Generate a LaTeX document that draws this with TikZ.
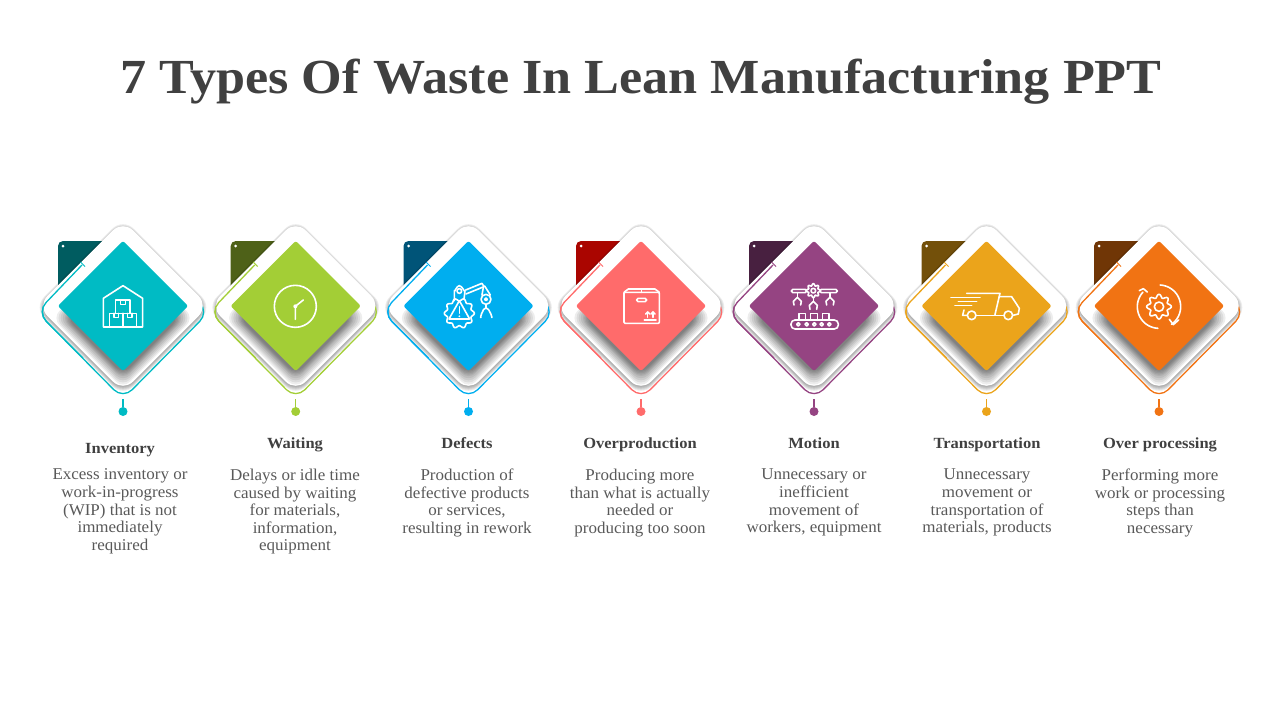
\documentclass[tikz,border=0pt]{standalone}
\usepackage{xcolor}
\usepackage{fontspec}
\setmainfont[FakeStretch=1.03]{Liberation Serif}
\newfontfamily\headfont[FakeStretch=1.065]{Liberation Serif}
\usetikzlibrary{positioning}
\definecolor{titlecolor}{RGB}{64,64,64}
\definecolor{bodycolor}{RGB}{89,89,89}
\definecolor{tealcolor}{RGB}{0,187,196}
\definecolor{tealdark}{RGB}{0,92,96}
\definecolor{greencolor}{RGB}{163,206,54}
\definecolor{greendark}{RGB}{78,97,24}
\definecolor{bluecolor}{RGB}{0,174,239}
\definecolor{bluedark}{RGB}{0,84,120}
\definecolor{coralcolor}{RGB}{255,107,107}
\definecolor{coraldark}{RGB}{170,5,0}
\definecolor{purplecolor}{RGB}{149,68,130}
\definecolor{purpledark}{RGB}{72,32,64}
\definecolor{ambercolor}{RGB}{235,164,27}
\definecolor{amberdark}{RGB}{115,80,10}
\definecolor{orangecolor}{RGB}{241,115,19}
\definecolor{orangedark}{RGB}{112,54,6}

% blurred shadow: x, y, half side, list of growths, corner radius, opacity
\newcommand{\softshadow}[6]{
    \foreach \grow in {#4} {
        \fill[black, opacity=#6, shift={(#1,#2)}, rotate=45, rounded corners=#5]
            ({-#3-\grow},{-#3-\grow}) rectangle ({#3+\grow},{#3+\grow});
    }
}
% one card: name, centre x, colour, dark colour
\newcommand{\wastecard}[4]{
    \begin{scope}[shift={(#2,306)}]
        \node[backtile, fill=#4] (#1tile) at (-35,-35) {};
        \node[pin] (#1pin) at (-60,-60) {};
        \softshadow{0}{1.5}{60.5}{2.8,2.1,1.4,0.7,0}{15pt}{0.07}
        \draw[outline=#3] (-41,-41) -- (-86,6) -- (0,93) -- (86,6) -- (60,-20);
        \node[whitecard] (#1card) at (0,0) {};
        \draw[outline=#3] (-41,-41) -- (-86,6) -- (-40,52);
        \draw[#3, line width=1pt] (-42.5,-44) -- (-38,-39.5);
        \node[pin] (#1mark) at (0,74) {};
        \softshadow{0}{12}{42}{8,6.5,5,3.5,2,1,0,-1,-2}{10pt}{0.07}
        \node[colorcard, fill=#3] (#1face) at (0,0) {};
        \coordinate (#1tip) at (0,93);
        \node[enddot, fill=#3] (#1dot) at (0,105.5) {};
        \draw[#3, line width=1.5pt] (#1tip) -- (#1dot);
    \end{scope}
}

\begin{document}
\begin{tikzpicture}[
    x=1pt, y=-1pt,
    backtile/.style={rectangle, minimum size=60pt, inner sep=0pt, rounded corners=5pt},
    pin/.style={circle, fill=white, minimum size=3pt, inner sep=0pt},
    whitecard/.style={rectangle, fill=white, rotate=45, minimum size=121pt, inner sep=0pt, rounded corners=14pt},
    colorcard/.style={rectangle, rotate=45, minimum size=92pt, inner sep=0pt, rounded corners=2pt},
    outline/.style={#1, line width=1.3pt, rounded corners=13pt},
    enddot/.style={circle, minimum size=9pt, inner sep=0pt},
    iconline/.style={white, line width=1.6pt, line cap=round, line join=round},
    maintitle/.style={font=\fontsize{49}{55}\headfont\bfseries, text=titlecolor},
    headlabel/.style={font=\fontsize{15.5}{18}\headfont\bfseries, text=titlecolor, anchor=base},
    bodylabel/.style={font=\fontsize{16.5}{17.6}\selectfont, text=bodycolor, align=center, anchor=north, execute at begin node={\rule{0pt}{12pt}}}
]
    \useasboundingbox (0,0) rectangle (1280,720);

    % Title
    \node[maintitle] (title) at (641,82) {7 Types Of Waste In Lean Manufacturing PPT};

    % Cards
    \wastecard{inventory}{123}{tealcolor}{tealdark}
    \wastecard{waiting}{295.7}{greencolor}{greendark}
    \wastecard{defects}{468.5}{bluecolor}{bluedark}
    \wastecard{overproduction}{641}{coralcolor}{coraldark}
    \wastecard{motion}{814}{purplecolor}{purpledark}
    \wastecard{transportation}{986.5}{ambercolor}{amberdark}
    \wastecard{processing}{1159}{orangecolor}{orangedark}

    % Warehouse icon
    \begin{scope}[shift={(30,215)}, x=0.3333pt, y=-0.3333pt]
        \draw[iconline] (220,336) -- (220,250) -- (279,212) -- (338,250) -- (338,336) -- cycle;
        \draw[iconline] (257,295) -- (257,255) -- (300,255) -- (300,295);
        \draw[iconline] (238,336) -- (238,295) -- (320,295) -- (320,336);
        \draw[iconline] (279,295) -- (279,336);
        \draw[iconline] (271,255) -- (271,268) -- (286,268) -- (286,255);
        \draw[iconline] (252,295) -- (252,308) -- (265,308) -- (265,295);
        \draw[iconline] (293,295) -- (293,308) -- (306,308) -- (306,295);
    \end{scope}

    % Clock icon
    \begin{scope}[shift={(230,240)}, x=0.3333pt, y=-0.3333pt]
        \draw[iconline] (196,199) circle (63);
        \draw[iconline] (220,180) -- (196,199) -- (196,238);
        \fill[white] (196,199) circle (6);
    \end{scope}

    % Robot arm icon
    \begin{scope}[shift={(400,240)}, x=0.3333pt, y=-0.3333pt]
        \draw[iconline] plot[domain=0:360, samples=121, smooth] ({178+(41+4*cos(10*\x))*cos(\x)},{220+(41+4*cos(10*\x))*sin(\x)});
        \draw[iconline] (178,182) -- (147,237) -- (209,237) -- cycle;
        \draw[iconline] (178,200) -- (178,220);
        \fill[white] (178,229) circle (3);
        \draw[iconline] (163,182) -- (163,152) to[out=-90, in=180] (178,137) to[out=0, in=-90] (195,152) -- (192,178);
        \draw[iconline] (178,153) circle (7);
        \draw[iconline] (197,150) -- (246,130) -- (252,140) -- (198,162);
        \draw[iconline] (250,142) -- (246,165);
        \draw[iconline] (254,138) -- (271,165);
        \draw[iconline] (258,178) circle (15);
        \draw[iconline] (258,178) circle (4);
        \draw[iconline] (258,193) -- (258,205);
        \draw[iconline] (243,232) to[out=-110, in=170] (258,205) to[out=10, in=-70] (275,232);
    \end{scope}

    % Box icon
    \begin{scope}[shift={(575,240)}, x=0.3333pt, y=-0.3333pt]
        \draw[iconline, rounded corners=1pt] (147,157) rectangle (253,250);
        \draw[iconline] (147,157) -- (160,147) -- (240,147) -- (253,157);
        \draw[iconline] (200,147) -- (200,157);
        \draw[iconline, rounded corners=1.5pt] (185,175) rectangle (215,185);
        \draw[iconline] (218,232) -- (218,216);
        \draw[iconline] (212,222) -- (218,216) -- (224,222);
        \draw[iconline] (234,232) -- (234,216);
        \draw[iconline] (228,222) -- (234,216) -- (240,222);
        \draw[iconline] (208,240) -- (243,240);
    \end{scope}

    % Conveyor icon
    \begin{scope}[shift={(750,240)}, x=0.3333pt, y=-0.3333pt]
        \draw[iconline] plot[domain=0:360, samples=121, smooth] ({190+(18+3*cos(8*\x))*cos(\x)},{152+(18+3*cos(8*\x))*sin(\x)});
        \draw[iconline] (190,152) circle (7);
        \draw[iconline, rounded corners=1.5pt] (124,148) rectangle (170,158);
        \draw[iconline, rounded corners=1.5pt] (210,148) rectangle (262,158);
        \draw[iconline] (142,158) -- (142,172);
        \draw[iconline] (132,195) -- (130,184) -- (142,172) -- (154,184) -- (152,195);
        \draw[iconline] (190,172) -- (190,184);
        \draw[iconline] (180,208) -- (178,196) -- (190,184) -- (202,196) -- (200,208);
        \draw[iconline] (240,158) -- (240,172);
        \draw[iconline] (230,195) -- (228,184) -- (240,172) -- (252,184) -- (250,195);
        \draw[iconline] (147,240) -- (147,220) -- (167,220) -- (167,240);
        \draw[iconline] (182,240) -- (182,220) -- (202,220) -- (202,240);
        \draw[iconline] (217,240) -- (217,220) -- (237,220) -- (237,240);
        \draw[iconline, rounded corners=4pt] (123,240) rectangle (265,267);
        \foreach \wheel in {145,170,193,215,238} {
            \draw[iconline] (\wheel,253) circle (5);
        }
    \end{scope}

    % Truck icon
    \begin{scope}[shift={(750,240)}, x=0.3333pt, y=-0.3333pt]
        \draw[iconline] (650,160) -- (750,160) -- (735,224);
        \draw[iconline] (748,170) -- (785,170) -- (808,205) -- (805,222) -- (789,226);
        \draw[iconline] (679,226) -- (761,226);
        \draw[iconline] (651,226) -- (638,226) -- (642,210);
        \draw[iconline] (775,226) circle (13);
        \draw[iconline] (665,226) circle (13);
        \draw[iconline] (603,173) -- (690,173);
        \draw[iconline] (625,184) -- (680,184);
        \draw[iconline] (615,196) -- (665,196);
    \end{scope}

    % Gear icon
    \begin{scope}[shift={(1090,240)}, x=0.3333pt, y=-0.3333pt]
        \draw[iconline] plot[domain=0:360, samples=121, smooth] ({207+(32+5*cos(8*\x))*cos(\x)},{200+(32+5*cos(8*\x))*sin(\x)});
        \draw[iconline] (207,200) circle (14);
        \draw[iconline] plot[domain=-87:55, samples=30, smooth] ({207+65*cos(\x)},{200+65*sin(\x)});
        \draw[iconline] plot[domain=93:222, samples=30, smooth] ({207+65*cos(\x)},{200+65*sin(\x)});
        \draw[iconline] (238,238) -- (250,254) -- (266,240);
        \draw[iconline] (148,152) -- (160,146) -- (172,156);
    \end{scope}

    % Labels
    \node[headlabel] (inventoryhead) at (120,453) {Inventory};
    \node[bodylabel] (inventorybody) at (120,465.5) {Excess inventory or\\work-in-progress\\(WIP) that is not\\immediately\\required};
    \node[headlabel] (waitinghead) at (295,448) {Waiting};
    \node[bodylabel] (waitingbody) at (295,465.5) {Delays or idle time\\caused by waiting\\for materials,\\information,\\equipment};
    \node[headlabel] (defectshead) at (467,448) {Defects};
    \node[bodylabel] (defectsbody) at (467,465.5) {Production of\\defective products\\or services,\\resulting in rework};
    \node[headlabel] (overproductionhead) at (640,448) {Overproduction};
    \node[bodylabel] (overproductionbody) at (640,465.5) {Producing more\\than what is actually\\needed or\\producing too soon};
    \node[headlabel] (motionhead) at (814,448) {Motion};
    \node[bodylabel] (motionbody) at (814,465.5) {Unnecessary or\\inefficient\\movement of\\workers, equipment};
    \node[headlabel] (transportationhead) at (987,448) {Transportation};
    \node[bodylabel] (transportationbody) at (987,465.5) {Unnecessary\\movement or\\transportation of\\materials, products};
    \node[headlabel] (processinghead) at (1160,448) {Over processing};
    \node[bodylabel] (processingbody) at (1160,465.5) {Performing more\\work or processing\\steps than\\necessary};
\end{tikzpicture}
\end{document}
